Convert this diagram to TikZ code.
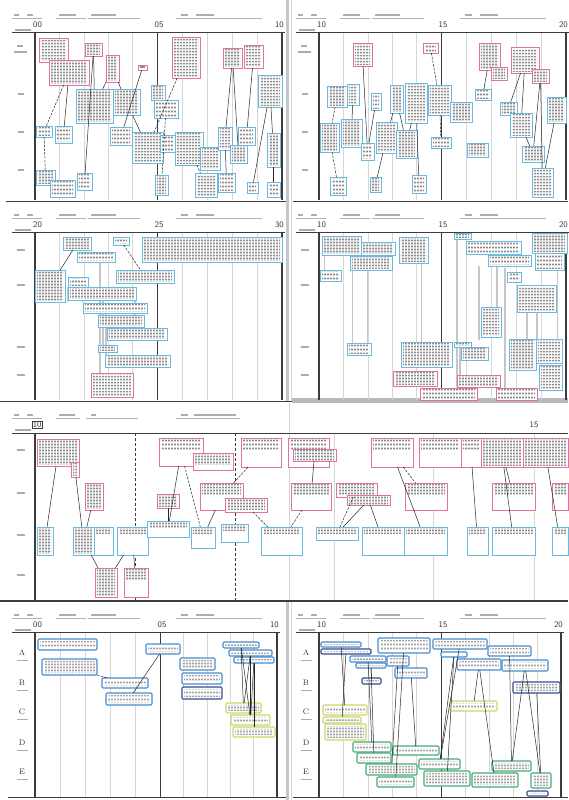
\documentclass[tikz,border=0pt]{standalone}
\usetikzlibrary{patterns}
\pgfdeclarepatternformonly{cjk}{\pgfpointorigin}{\pgfpoint{3pt}{3.4pt}}{\pgfpoint{3pt}{3.4pt}}{\pgfpathrectangle{\pgfpoint{0.3pt}{0.6pt}}{\pgfpoint{2.3pt}{2.0pt}}\pgfusepath{fill}}
\definecolor{pinkc}{RGB}{226,112,162}
\definecolor{bluec}{RGB}{105,185,225}
\definecolor{mblue}{RGB}{70,140,205}
\definecolor{dblue}{RGB}{55,75,145}
\definecolor{yelc}{RGB}{205,215,100}
\definecolor{grnc}{RGB}{70,170,120}
\definecolor{txtc}{RGB}{140,140,140}
\definecolor{txtl}{RGB}{165,165,165}
\definecolor{axc}{RGB}{60,60,60}
\definecolor{gridc}{RGB}{215,215,215}
\tikzset{
 gridl/.style={draw=gridc, line width=0.6pt},
 axl/.style={draw=axc, line width=0.8pt},
 hdl/.style={draw=gray!60, line width=0.4pt},
 htx/.style={draw=gray!65, line width=1.8pt},
 tm/.style={font=\sffamily\fontsize{8.5}{8.5}\selectfont, text=axc, inner sep=0pt},
 rl/.style={font=\fontsize{8}{8}\selectfont, text=black!80, inner sep=0pt},
 gbar/.style={draw=gray!45, line width=2pt},
 con/.style={draw=black!85, line width=0.5pt},
 dcon/.style={con, dash pattern=on 2.5pt off 1.3pt},
 txt/.style={path picture={\fill[pattern=cjk, pattern color=txtc] ([shift={(1.8pt,-1.8pt)}]path picture bounding box.north west) rectangle ([shift={(-1.8pt,1.8pt)}]path picture bounding box.south east);}},
 txtlt/.style={path picture={\fill[pattern=cjk, pattern color=txtl] ([shift={(2pt,-1.8pt)}]path picture bounding box.north west) rectangle ([shift={(-2pt,1.8pt)}]path picture bounding box.south east);}},
 ttop/.style={path picture={\fill[pattern=cjk, pattern color=txtc] ([shift={(1.8pt,-1.8pt)}]path picture bounding box.north west) rectangle ([shift={(-1.8pt,-#1)}]path picture bounding box.north east);}},
 bxb/.style={rectangle, draw, fill=white, line width=0.9pt, inner sep=0pt, outer sep=0pt},
 pk/.style={bxb, draw=pinkc, txt},
 bl/.style={bxb, draw=bluec, txt},
 pkt/.style={bxb, draw=pinkc, ttop=11pt},
 blt/.style={bxb, draw=bluec, ttop=6pt},
 rb/.style={bxb, rounded corners=1.2pt, line width=1.1pt, txtlt},
 mb/.style={rb, draw=mblue},
 db/.style={rb, draw=dblue},
 yb/.style={rb, draw=yelc},
 gb/.style={rb, draw=grnc},
}
\newcommand\bx[6]{\node[#6, minimum width={(#4-#2)*1pt}, minimum height={(#5-#3)*1pt}] (#1) at ({(#2+#4)/2},{(#3+#5)/2}) {};}
% #1 x0, #2 y0, #3 mid offset, #4 right offset, #5-#7 labels, #8 bottom offset, #9 name prefix
\newcommand\tlpanel[9]{%
 \foreach \k in {1,...,4}{
   \draw[gridl] ({#1+35+(#3-35)*\k/5},{#2+32}) -- ++(0,{#8-32});
   \draw[gridl] ({#1+#3+(#4-#3)*\k/5},{#2+32}) -- ++(0,{#8-32});
 }
 \draw[axl] ({#1+12},{#2+32}) -- ({#1+#4+3},{#2+32});
 \draw[axl, line width=1.4pt] ({#1+35},{#2+32}) -- ({#1+35},{#2+#8});
 \draw[axl] ({#1+#3},{#2+32}) -- ({#1+#3},{#2+#8});
 \draw[axl, line width=1.2pt] ({#1+#4},{#2+32}) -- ({#1+#4},{#2+#8});
 \node[tm, anchor=west] (#9l1) at ({#1+33},{#2+25}) {#5};
 \node[tm] (#9l2) at ({#1+#3+2},{#2+25}) {#6};
 \node[tm, anchor=east] (#9l3) at ({#1+#4+2},{#2+25}) {#7};
 \draw[hdl] ({#1+12},{#2+18}) -- ({#1+42},{#2+18});
 \draw[hdl] ({#1+56},{#2+18}) -- ({#1+86},{#2+18});
 \draw[hdl] ({#1+88},{#2+18}) -- ({#1+140},{#2+18});
 \draw[hdl] ({#1+176},{#2+18}) -- ({#1+262},{#2+18});
 \draw[htx] ({#1+14},{#2+15}) -- ({#1+19},{#2+15});
 \draw[htx] ({#1+27},{#2+15}) -- ({#1+33},{#2+15});
 \draw[htx] ({#1+59},{#2+15}) -- ({#1+76},{#2+15});
 \draw[htx] ({#1+91},{#2+15}) -- ({#1+116},{#2+15});
 \draw[htx] ({#1+181},{#2+15}) -- ({#1+188},{#2+15});
 \draw[htx] ({#1+196},{#2+15}) -- ({#1+214},{#2+15});
 \draw[htx, line width=1.4pt] ({#1+15},{#2+30}) -- ({#1+31},{#2+30});
}
\begin{document}
\begin{tikzpicture}[x=1pt,y=-1pt]
\useasboundingbox (0,0) rectangle (568,800);
\fill[white] (0,0) rectangle (568,800);

% ---------- page frames ----------
\draw[draw=gray!45, line width=2.2pt] (287.5,0) -- (287.5,401);
\draw[draw=gray!30, line width=0.6pt] (291.5,0) -- (291.5,401);
\draw[draw=gray!45, line width=2.2pt] (287.5,601) -- (287.5,800);
\draw[draw=gray!30, line width=0.6pt] (291.5,601) -- (291.5,800);
\draw[axl, line width=1.2pt] (6,201.5) -- (286,201.5);
\draw[axl, line width=1.2pt] (293,201.5) -- (568,201.5);
\draw[axl, line width=1.2pt] (0,401.5) -- (568,401.5);
\fill[gray!55] (292,398) rectangle (568,403);
\draw[axl, line width=1.2pt] (0,601) -- (568,601);
\draw[axl, line width=1.6pt] (8,797.5) -- (286,797.5);
\draw[axl, line width=1.6pt] (293,797.5) -- (568,797.5);

% ---------- panel grids ----------
\tlpanel{0}{0}{157}{282}{00}{05}{10}{200}{pa}
\tlpanel{284}{0}{157}{282}{10}{15}{20}{200}{pb}
\tlpanel{0}{200}{157}{282}{20}{25}{30}{200}{pc}
\tlpanel{284}{200}{157}{282}{10}{15}{20}{200}{pd}
\tlpanel{0}{600}{160}{277}{00}{05}{10}{197}{pf}
\tlpanel{284}{600}{157}{277}{10}{15}{20}{197}{pg}

% row labels (panels 1-4)
\foreach \xo in {0,284}{
  \draw[htx, line width=1.3pt] ({\xo+17},46) -- ({\xo+23},46);
  \draw[htx, line width=1.3pt] ({\xo+14},52) -- ({\xo+27},52);
  \foreach \r in {94,132,170}{\draw[htx, line width=1.4pt] ({\xo+18},\r) -- ({\xo+24},\r);}
  \foreach \r in {250,285,347,375}{\draw[htx, line width=1.4pt] ({\xo+17},\r) -- ({\xo+25},\r);}
}
% row labels (panels 6-7)
\foreach \xo/\pp in {0/f,284/g}{
  \foreach \yy/\lt in {653/A,683/B,712/C,743/D,772/E}{
    \node[rl] (\pp row\lt) at ({\xo+22},\yy) {\lt};
    \draw[htx, line width=1pt] ({\xo+17},{\yy+7}) -- ({\xo+28},{\yy+7});
  }
}

% ---------- panel 5 grid ----------
\draw[draw=gray!35, line width=0.6pt] (289,403) -- (289,600);
\foreach \xx in {334,433,534}{\draw[gridl] (\xx,433) -- (\xx,600);}
\draw[axc, line width=0.6pt, dash pattern=on 3pt off 2pt] (135,433) -- (135,600);
\draw[axc, line width=0.6pt, dash pattern=on 3pt off 2pt] (235,433) -- (235,600);
\draw[axl] (12,433) -- (568,433);
\draw[axl, line width=1.4pt] (35,433) -- (35,600);
\node[tm, anchor=west, draw=axc, line width=0.4pt, inner sep=0.6pt] (pel1) at (32,425) {10};
\node[tm] (pel2) at (534,425) {15};
\draw[hdl] (12,418) -- (42,418);
\draw[hdl] (56,418) -- (80,418);
\draw[hdl] (86,418) -- (138,418);
\draw[hdl] (176,418) -- (240,418);
\draw[htx] (14,415) -- (19,415);
\draw[htx] (27,415) -- (33,415);
\draw[htx] (59,415) -- (75,415);
\draw[htx] (91,415) -- (96,415);
\draw[htx] (181,415) -- (188,415);
\draw[htx] (194,415) -- (236,415);
\draw[htx, line width=1.4pt] (15,430) -- (31,430);
\foreach \r in {450,493,535,575}{\draw[htx, line width=1.4pt] (17,\r) -- (25,\r);}

% ---------- gray duration bars (panels 3,4) ----------
\draw[gbar] (100,262) -- (100,373);
\draw[gbar] (103,300) -- (103,353);
\draw[gbar] (106,313) -- (106,355);
\draw[gbar] (135,300) -- (135,333);
\draw[gbar, line width=0.8pt] (67,287) -- (67,302);
\draw[gbar, line width=0.8pt] (82,287) -- (82,303);
\draw[gbar] (457,239) -- (457,387);
\draw[gbar] (460,347) -- (460,387);
\draw[gbar] (479,266) -- (479,340);
\draw[gbar] (497,266) -- (497,307);
\draw[gbar] (505,268) -- (505,388);
\draw[gbar] (527,312) -- (527,339);
\draw[gbar] (537,312) -- (537,339);
\draw[gbar, line width=0.8pt] (557,270) -- (557,340);
\draw[gbar, line width=0.8pt] (352,270) -- (352,343);
\draw[gbar, line width=0.8pt] (421,263) -- (421,342);
\draw[gbar, line width=0.8pt] (367,255) -- (367,343);
\draw[gbar, line width=0.8pt] (324,255) -- (324,270);

% ---------- panel 1 ----------
\bx{a1}{39}{38}{68}{62}{pk}
\bx{a2}{49}{60}{89}{85}{pk}
\bx{a3}{85}{43}{102}{56}{pk}
\bx{a4}{106}{55}{119}{82}{pk}
\bx{a5}{138}{65}{147}{70}{pk}
\bx{a6}{172}{37}{200}{78}{pk}
\bx{a7}{223}{48}{242}{68}{pk}
\bx{a8}{244}{45}{263}{68}{pk}
\bx{a9}{76}{89}{113}{123}{bl}
\bx{a10}{113}{89}{140}{115}{bl}
\bx{a11}{151}{85}{165}{100}{bl}
\bx{a12}{154}{100}{178}{118}{bl}
\bx{a13}{258}{75}{282}{107}{bl}
\bx{a14}{36}{126}{52}{137}{bl}
\bx{a15}{55}{126}{72}{143}{bl}
\bx{a16}{110}{127}{132}{145}{bl}
\bx{a17}{132}{132}{163}{163}{bl}
\bx{a18}{160}{135}{175}{152}{bl}
\bx{a19}{175}{132}{203}{165}{bl}
\bx{a20}{200}{147}{220}{170}{bl}
\bx{a21}{218}{127}{232}{150}{bl}
\bx{a22}{230}{145}{247}{163}{bl}
\bx{a23}{238}{127}{255}{145}{bl}
\bx{a24}{267}{133}{280}{167}{bl}
\bx{a25}{36}{170}{55}{185}{bl}
\bx{a26}{50}{180}{75}{197}{bl}
\bx{a27}{77}{173}{92}{190}{bl}
\bx{a28}{155}{175}{168}{195}{bl}
\bx{a29}{195}{173}{217}{197}{bl}
\bx{a30}{218}{173}{235}{192}{bl}
\bx{a31}{247}{182}{258}{193}{bl}
\bx{a32}{267}{182}{280}{197}{bl}
\foreach \p/\q in {a2/a15,a3/a9,a3/a27,a4/a9,a4/a10,a5/a16,a7/a21,a7/a22,a8/a23,a13/a24,a13/a31,a21/a30,a24/a32,a10/a17}{\draw[con] (\p) -- (\q);}
\foreach \p/\q in {a2/a14,a14/a25,a6/a17,a12/a28,a19/a29}{\draw[dcon] (\p) -- (\q);}

% ---------- panel 2 ----------
\bx{b1}{353}{43}{372}{66}{pk}
\bx{b2}{423}{43}{438}{53}{pk}
\bx{b3}{479}{43}{500}{70}{pk}
\bx{b4}{491}{67}{507}{80}{pk}
\bx{b5}{511}{47}{539}{73}{pk}
\bx{b6}{532}{69}{549}{83}{pk}
\bx{b7}{327}{86}{347}{107}{bl}
\bx{b8}{347}{84}{359}{105}{bl}
\bx{b9}{371}{93}{381}{110}{bl}
\bx{b10}{390}{85}{403}{113}{bl}
\bx{b11}{405}{83}{427}{123}{bl}
\bx{b12}{428}{85}{451}{115}{bl}
\bx{b13}{450}{102}{472}{122}{bl}
\bx{b14}{475}{89}{491}{100}{bl}
\bx{b15}{500}{102}{517}{115}{bl}
\bx{b16}{547}{97}{566}{123}{bl}
\bx{b17}{320}{123}{339}{152}{bl}
\bx{b18}{341}{119}{362}{147}{bl}
\bx{b19}{361}{143}{374}{160}{bl}
\bx{b20}{376}{122}{397}{153}{bl}
\bx{b21}{396}{130}{417}{158}{bl}
\bx{b22}{431}{137}{451}{148}{bl}
\bx{b23}{467}{143}{488}{157}{bl}
\bx{b24}{510}{113}{532}{137}{bl}
\bx{b25}{522}{146}{544}{162}{bl}
\bx{b26}{532}{168}{553}{197}{bl}
\bx{b27}{330}{177}{346}{195}{bl}
\bx{b28}{370}{177}{381}{192}{bl}
\bx{b29}{412}{175}{426}{193}{bl}
\foreach \p/\q in {b1/b19,b3/b14,b5/b15,b5/b24,b6/b25,b6/b26,b8/b18,b10/b20,b10/b21,b11/b21,b11/b29,b20/b28,b16/b26,b24/b25,b9/b19}{\draw[con] (\p) -- (\q);}
\foreach \p/\q in {b2/b12,b7/b17,b12/b22,b17/b27}{\draw[dcon] (\p) -- (\q);}

% ---------- panel 3 ----------
\bx{c1}{63}{237}{91}{250}{bl}
\bx{c2}{113}{237}{129}{245}{bl}
\bx{c3}{142}{237}{282}{262}{bl}
\bx{c4}{77}{252}{115}{262}{bl}
\bx{c5}{35}{270}{65}{302}{bl}
\bx{c6}{68}{277}{88}{287}{bl}
\bx{c7}{116}{270}{174}{283}{bl}
\bx{c8}{68}{287}{136}{300}{bl}
\bx{c9}{83}{303}{147}{313}{bl}
\bx{c10}{98}{315}{144}{327}{bl}
\bx{c11}{107}{328}{167}{340}{bl}
\bx{c12}{98}{345}{117}{352}{bl}
\bx{c13}{105}{355}{170}{367}{bl}
\bx{c14}{91}{373}{133}{397}{pk}
\draw[con] (c1) -- (c5);
\draw[dcon] (c2) -- (c7);

% ---------- panel 4 ----------
\bx{d1}{322}{236}{361}{255}{bl}
\bx{d2}{361}{242}{395}{255}{bl}
\bx{d3}{350}{256}{392}{270}{bl}
\bx{d4}{399}{237}{428}{263}{bl}
\bx{d5}{320}{270}{341}{281}{bl}
\bx{d6}{454}{233}{471}{239}{bl}
\bx{d7}{466}{241}{521}{254}{bl}
\bx{d8}{488}{255}{531}{266}{bl}
\bx{d9}{507}{272}{521}{282}{bl}
\bx{d10}{532}{233}{567}{253}{bl}
\bx{d11}{535}{253}{564}{270}{bl}
\bx{d12}{517}{285}{556}{312}{bl}
\bx{d13}{481}{307}{501}{337}{bl}
\bx{d14}{347}{343}{371}{355}{bl}
\bx{d15}{401}{342}{452}{367}{bl}
\bx{d16}{454}{342}{471}{347}{bl}
\bx{d17}{461}{347}{488}{360}{bl}
\bx{d18}{509}{339}{536}{370}{bl}
\bx{d19}{536}{339}{562}{363}{bl}
\bx{d20}{539}{365}{562}{390}{bl}
\bx{d21}{393}{371}{437}{386}{pk}
\bx{d22}{457}{375}{500}{387}{pk}
\bx{d23}{420}{388}{477}{400}{pk}
\bx{d24}{496}{388}{537}{400}{pk}

% ---------- panel 5 ----------
\bx{e1}{37}{439}{79}{466}{pk}
\bx{e2}{71}{462}{79}{477}{pk}
\bx{e3}{85}{483}{103}{510}{pk}
\bx{e4}{159}{438}{203}{466}{pkt}
\bx{e5}{193}{453}{233}{470}{pkt}
\bx{e6}{157}{494}{179}{508}{pk}
\bx{e7}{200}{483}{243}{510}{pkt}
\bx{e8}{225}{498}{267}{512}{pkt}
\bx{e9}{241}{438}{281}{467}{pkt}
\bx{e10}{288}{438}{329}{467}{pkt}
\bx{e11}{293}{449}{336}{461}{pkt}
\bx{e12}{291}{483}{331}{510}{pkt}
\bx{e13}{336}{483}{377}{497}{pkt}
\bx{e14}{347}{495}{390}{505}{pkt}
\bx{e15}{371}{438}{413}{467}{pkt}
\bx{e16}{405}{483}{447}{510}{pkt}
\bx{e17}{419}{438}{461}{467}{pkt}
\bx{e18}{461}{438}{481}{467}{pkt}
\bx{e19}{481}{438}{523}{467}{pk}
\bx{e20}{523}{438}{568}{467}{pk}
\bx{e21}{492}{483}{535}{510}{pkt}
\bx{e22}{552}{483}{568}{510}{pkt}
\bx{e23}{95}{568}{117}{597}{pk}
\bx{e24}{124}{568}{148}{597}{pkt}
\bx{e25}{37}{527}{53}{555}{bl}
\bx{e26}{73}{527}{94}{555}{bl}
\bx{e27}{94}{527}{113}{555}{blt}
\bx{e28}{117}{527}{148}{555}{blt}
\bx{e29}{147}{521}{189}{537}{blt}
\bx{e30}{191}{527}{215}{548}{blt}
\bx{e31}{221}{524}{248}{542}{blt}
\bx{e32}{261}{527}{302}{555}{blt}
\bx{e33}{316}{527}{358}{540}{blt}
\bx{e34}{362}{527}{404}{555}{blt}
\bx{e35}{404}{527}{447}{555}{blt}
\bx{e36}{467}{527}{488}{555}{blt}
\bx{e37}{492}{527}{535}{555}{blt}
\bx{e38}{552}{527}{568}{555}{blt}
\foreach \p/\q in {e1/e25,e2/e26,e3/e26,e26/e23,e28/e23,e28/e24,e4/e29,e6/e29,e7/e30,e11/e12,e14/e33,e14/e34,e15/e35,e18/e36,e19/e37,e19/e21,e20/e38}{\draw[con] (\p) -- (\q);}
\foreach \p/\q in {e4/e30,e9/e7,e12/e32,e13/e33,e15/e16,e8/e32}{\draw[dcon] (\p) -- (\q);}

% ---------- panel 6 ----------
\bx{f1}{38}{639}{97}{650}{mb}
\bx{f2}{42}{659}{97}{675}{mb}
\bx{f3}{102}{678}{148}{688}{mb}
\bx{f4}{106}{693}{152}{705}{mb}
\bx{f5}{146}{644}{180}{654}{mb}
\bx{f6}{180}{658}{215}{670}{mb}
\bx{f7}{182}{673}{222}{684}{mb}
\bx{f8}{182}{687}{222}{699}{db}
\bx{f9}{223}{642}{259}{648}{mb}
\bx{f10}{229}{650}{272}{656}{mb}
\bx{f11}{234}{657}{274}{663}{mb}
\bx{f12}{226}{703}{261}{713}{yb}
\bx{f13}{231}{715}{270}{725}{yb}
\bx{f14}{233}{727}{275}{737}{yb}
\foreach \p/\q in {f5/f4,f9/f12,f10/f12,f10/f13,f11/f13,f11/f14,f9/f13}{\draw[con] (\p) -- (\q);}
\draw[dcon] (f2) -- (f3);

% ---------- panel 7 ----------
\bx{g1}{321}{642}{361}{647}{mb}
\bx{g2}{321}{649}{371}{654}{db}
\bx{g3}{350}{656}{386}{662}{mb}
\bx{g4}{356}{663}{386}{668}{mb}
\bx{g5}{378}{638}{430}{653}{mb}
\bx{g6}{387}{656}{409}{666}{mb}
\bx{g7}{395}{668}{427}{678}{mb}
\bx{g8}{362}{678}{381}{684}{db}
\bx{g9}{433}{639}{487}{649}{mb}
\bx{g10}{441}{652}{467}{657}{mb}
\bx{g11}{457}{659}{501}{670}{mb}
\bx{g12}{488}{646}{531}{656}{mb}
\bx{g13}{502}{660}{548}{671}{mb}
\bx{g14}{513}{682}{560}{693}{db}
\bx{g15}{323}{705}{367}{715}{yb}
\bx{g16}{323}{717}{361}{723}{yb}
\bx{g17}{325}{724}{366}{740}{yb}
\bx{g18}{450}{701}{497}{711}{yb}
\bx{g19}{353}{742}{391}{752}{gb}
\bx{g20}{357}{753}{391}{763}{gb}
\bx{g21}{366}{764}{417}{775}{gb}
\bx{g22}{377}{777}{414}{787}{gb}
\bx{g23}{393}{746}{439}{755}{gb}
\bx{g24}{419}{759}{460}{769}{gb}
\bx{g25}{424}{771}{470}{786}{gb}
\bx{g26}{472}{773}{518}{787}{gb}
\bx{g27}{492}{761}{531}{771}{gb}
\bx{g28}{531}{773}{551}{788}{gb}
\bx{g29}{527}{791}{548}{796}{db}
\foreach \p/\q in {g1/g15,g2/g16,g3/g19,g4/g8,g4/g20,g6/g21,g7/g23,g5/g22,g9/g24,g10/g25,g11/g18,g11/g26,g12/g27,g13/g27,g14/g28,g13/g28,g10/g24}{\draw[con] (\p) -- (\q);}
\end{tikzpicture}
\end{document}
